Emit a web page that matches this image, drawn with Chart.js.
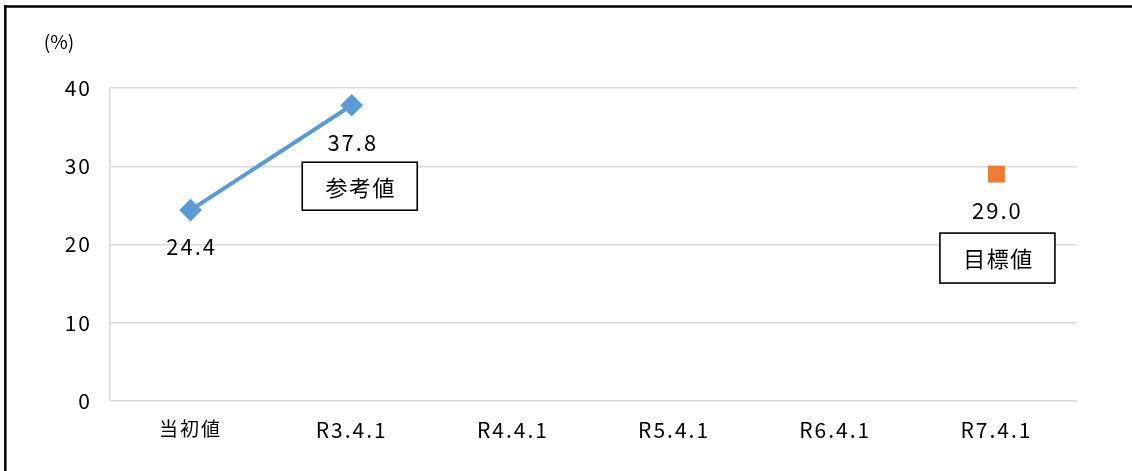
<!DOCTYPE html>
<html><head><meta charset="utf-8">
<script src="https://cdn.jsdelivr.net/npm/chart.js@4/dist/chart.umd.min.js"></script>
<style>html,body{margin:0;padding:0;background:#fff}#wrap{width:1132px;height:471px}</style>
</head><body><div id="wrap"><canvas id="c" width="1132" height="471"></canvas></div>
<script>
const categories = ['当初値','R3.4.1','R4.4.1','R5.4.1','R6.4.1','R7.4.1'];
const actualValues = [24.4, 37.8, null, null, null, null];
const targetValues = [null, null, null, null, null, 29.0];
const yTicks = [0, 10, 20, 30, 40];
const unitLabel = '(%)';
const boxLabels = [{index:1, dataset:0, text:'参考値'}, {index:5, dataset:1, text:'目標値'}];

const FONT = '"Noto Sans CJK JP", "Noto Sans", sans-serif';

const spacing = {
  id:'spacing',
  beforeDraw(chart){ chart.ctx.letterSpacing = '2px'; }
};

const decor = {
  id:'decor',
  afterDatasetsDraw(chart){
    const ctx = chart.ctx;
    const xs = chart.scales.x, ys = chart.scales.y;
    ctx.save();
    ctx.letterSpacing = '2px';
    ctx.fillStyle = '#000';
    ctx.font = '22px ' + FONT;
    ctx.textAlign = 'center'; ctx.textBaseline = 'middle';
    chart.data.datasets.forEach(ds => {
      ds.data.forEach((v,i) => {
        if (v == null) return;
        ctx.fillText(v.toFixed(1), xs.getPixelForValue(i) + 1, ys.getPixelForValue(v) + 37);
      });
    });
    boxLabels.forEach(b => {
      const v = chart.data.datasets[b.dataset].data[b.index];
      const cx = xs.getPixelForValue(b.index) + (b.dataset === 0 ? 8 : 1);
      const cy = ys.getPixelForValue(v) + (b.dataset === 0 ? 81 : 84);
      const w = 115, h = b.dataset === 0 ? 48 : 50;
      ctx.fillStyle = '#fff';
      ctx.fillRect(cx - w/2, cy - h/2, w, h);
      ctx.strokeStyle = '#000'; ctx.lineWidth = 1.6;
      ctx.strokeRect(cx - w/2, cy - h/2, w, h);
      ctx.fillStyle = '#000';
      ctx.font = '22px ' + FONT;
      ctx.letterSpacing = '1.5px';
      ctx.fillText(b.text, cx + 1, cy + 1);
    });
    ctx.letterSpacing = '0px';
    ctx.font = '19px ' + FONT;
    ctx.fillText(unitLabel, 59, 42);
    ctx.strokeStyle = '#000'; ctx.lineWidth = 2.5;
    ctx.beginPath();
    ctx.moveTo(4, 6.5); ctx.lineTo(1132, 6.5);
    ctx.moveTo(5.3, 5); ctx.lineTo(5.3, 471);
    ctx.stroke();
    ctx.restore();
  }
};

new Chart(document.getElementById('c'), {
  type:'line',
  data:{
    labels: categories,
    datasets:[
      {label:'実績', data: actualValues, borderColor:'#5B9BD5', backgroundColor:'#5B9BD5', borderWidth:4,
       pointStyle:'rectRot', pointRadius:8.5, pointHoverRadius:8.5, spanGaps:false},
      {label:'目標', data: targetValues, borderColor:'#ED7D31', backgroundColor:'#ED7D31', showLine:false,
       pointStyle:'rect', pointRadius:12, pointHoverRadius:12, borderWidth:0}
    ]
  },
  options:{
    responsive:false, animation:false, devicePixelRatio:1,
    layout:{padding:{left:0, top:88, right:55, bottom:0}},
    plugins:{legend:{display:false}, tooltip:{enabled:false}, title:{display:false}},
    scales:{
      x:{
        offset:true,
        grid:{display:false, drawTicks:false},
        border:{display:false},
        ticks:{color:'#000', font:(c)=>({family:FONT, size: c.index === 0 ? 19 : 21}), padding:16, maxRotation:0},
        afterFit(s){ s.height = 70; }
      },
      y:{
        min:0, max:40,
        afterBuildTicks(s){ s.ticks = yTicks.map(v => ({value:v})); },
        grid:{color:'#d9d9d9', lineWidth:1.5, drawTicks:false},
        border:{display:true, color:'#d9d9d9', width:1.5},
        ticks:{color:'#000', font:{family:FONT, size:21}, padding:18},
        afterFit(s){ s.width = 110; }
      }
    }
  },
  plugins:[spacing, decor]
});
</script></body></html>
